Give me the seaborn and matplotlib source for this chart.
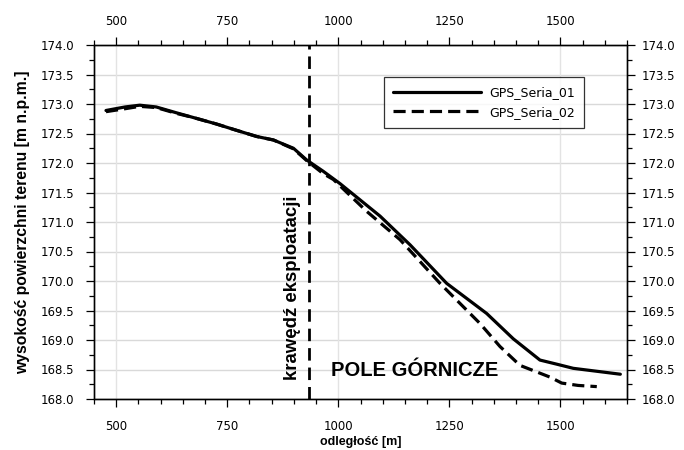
import matplotlib
matplotlib.use("Agg")
import matplotlib.pyplot as plt
from matplotlib.ticker import MultipleLocator
import seaborn as sns
import pandas as pd

# ---- data ----
s1_x = [477, 520, 553, 590, 636, 674, 726, 764, 816, 854, 899, 929, 966, 1004,
        1094, 1162, 1244, 1334, 1394, 1454, 1492, 1529, 1635]
s1_y = [172.89, 172.95, 172.98, 172.95, 172.85, 172.77, 172.66, 172.57, 172.45,
        172.39, 172.25, 172.05, 171.86, 171.65, 171.10, 170.61, 169.96, 169.45,
        169.02, 168.66, 168.59, 168.52, 168.42]
s2_x = [477, 520, 553, 590, 636, 674, 726, 764, 816, 854, 899, 929, 966, 989,
        1064, 1139, 1229, 1319, 1364, 1409, 1477, 1503, 1540, 1582]
s2_y = [172.87, 172.92, 172.96, 172.94, 172.84, 172.77, 172.66, 172.57, 172.45,
        172.39, 172.24, 172.04, 171.82, 171.72, 171.18, 170.70, 169.96, 169.28,
        168.89, 168.57, 168.37, 168.27, 168.23, 168.21]
series_names = ["GPS_Seria_01", "GPS_Seria_02"]
edge_x = 935
x_ticks = [500, 750, 1000, 1250, 1500]
y_ticks = [168.0, 168.5, 169.0, 169.5, 170.0, 170.5, 171.0, 171.5, 172.0,
           172.5, 173.0, 173.5, 174.0]
x_label = "odległość [m]"
y_label = "wysokość powierzchni terenu [m n.p.m.]"
edge_label = "krawędź eksploatacji"
field_label = "POLE GÓRNICZE"

df = pd.concat([
    pd.DataFrame({"x": s1_x, "y": s1_y, "seria": series_names[0]}),
    pd.DataFrame({"x": s2_x, "y": s2_y, "seria": series_names[1]}),
])

sns.set_style("ticks")
plt.rcParams["font.family"] = ["DejaVu Sans"]
plt.rcParams["text.color"] = "black"
plt.rcParams["axes.labelcolor"] = "black"

fig = plt.figure(figsize=(6.84, 4.5), dpi=100)
ax = fig.add_axes([94 / 684, 1 - 399 / 450, (627 - 94) / 684, (399 - 45) / 450])

# grid
ax.set_axisbelow(True)
for yv in y_ticks:
    ax.axhline(yv, color="#d9d9d9", lw=1.0, zorder=0)
for xv in [500, 1000, 1500]:
    ax.axvline(xv, color="#e3e3e3", lw=1.0, zorder=0)

sns.lineplot(data=df, x="x", y="y", hue="seria", style="seria",
             palette=["black", "black"], dashes={series_names[0]: "", series_names[1]: (3.8, 1.9)},
             linewidth=2.3, sort=False, estimator=None, ax=ax, legend=True)

ax.axvline(edge_x, color="black", lw=2.0, ls=(0, (4.5, 2.5)), zorder=3)

xlim = (450, 1650)
ylim = (168, 174)
ax.set_xlim(*xlim)
ax.set_ylim(*ylim)


def tick_style(a, axis):
    a.tick_params(axis=axis, which="both", direction="out", labelsize=8.5,
                  labelcolor="black", color="black", width=0.9)
    a.tick_params(axis=axis, which="major", length=6)
    a.tick_params(axis=axis, which="minor", length=3.5)


def set_x(a):
    a.set_xlim(*xlim)
    a.set_xticks(x_ticks)
    a.xaxis.set_minor_locator(MultipleLocator(50))
    tick_style(a, "x")


def set_y(a):
    a.set_ylim(*ylim)
    a.set_yticks(y_ticks)
    a.set_yticklabels([f"{v:.1f}" for v in y_ticks])
    a.yaxis.set_minor_locator(MultipleLocator(0.25))
    tick_style(a, "y")


set_x(ax)
set_y(ax)
ax.tick_params(axis="y", pad=8.5)
ax.tick_params(axis="x", pad=9)

axr = ax.twinx()
set_y(axr)
axr.tick_params(axis="y", pad=4.5)

axt = ax.twiny()
set_x(axt)
axt.tick_params(axis="x", pad=6)

for a in (ax, axr, axt):
    for sp in a.spines.values():
        sp.set_visible(True)
        sp.set_color("black")
        sp.set_linewidth(0.9)

ax.set_xlabel(x_label, family="Liberation Sans", fontweight="bold", fontsize=9, labelpad=2)
ax.set_ylabel(y_label, family="Liberation Sans", fontweight="bold", fontsize=11.3, labelpad=7)

ax.text(898, 169.88, edge_label, rotation=90, ha="center", va="center",
        family="Liberation Sans", fontweight="bold", fontsize=13.4, zorder=5)
ax.text(1171, 168.49, field_label, ha="center", va="center",
        family="Liberation Sans", fontweight="bold", fontsize=14.5, zorder=5)

leg = ax.legend(loc="upper left", bbox_to_anchor=((384 - 94) / 533, 1 - (77 - 45) / 354),
                frameon=True, fancybox=False, edgecolor="black", fontsize=9,
                handlelength=7.0, borderpad=0.75, labelspacing=0.5, handletextpad=0.65,
                borderaxespad=0)
leg.get_frame().set_linewidth(0.9)
leg.set_title(None)
leg.set_zorder(10)

fig.savefig("out.png", dpi=100)
